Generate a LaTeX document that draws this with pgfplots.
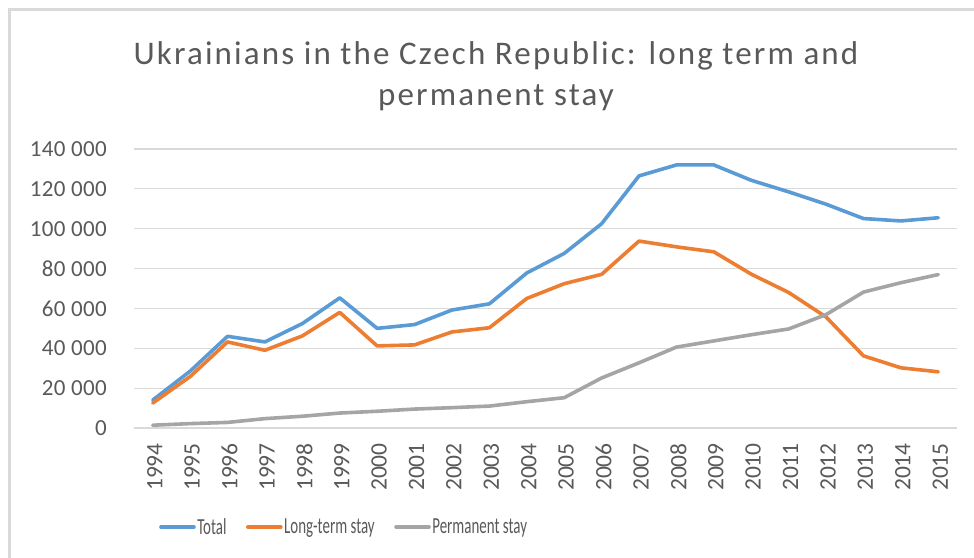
\documentclass[border=0pt]{standalone}
\usepackage{pgfplots}
\pgfplotsset{compat=1.18}
\usepackage{fontspec}
\setmainfont{Carlito}
\newfontfamily\legendfont[FakeStretch=0.65]{Carlito}
\newfontfamily\titlefont[LetterSpace=6.5]{Carlito}
\newfontfamily\tickfont[LetterSpace=1.5]{Carlito}
\definecolor{cBlue}{HTML}{5B9BD5}
\definecolor{cOrange}{HTML}{ED7D31}
\definecolor{cGray}{HTML}{A5A5A5}
\definecolor{cGrid}{HTML}{D9D9D9}
\definecolor{cText}{HTML}{595959}
\pgfplotstableread{
year total long perm
1994 14000 12500 1400
1995 28500 25800 2200
1996 46000 43200 2800
1997 43200 39000 4700
1998 52400 46200 5900
1999 65300 58000 7500
2000 50000 41200 8400
2001 51900 41700 9500
2002 59200 48200 10200
2003 62300 50300 11000
2004 77800 65000 13200
2005 87600 72400 15200
2006 102500 77100 25100
2007 126500 93800 32700
2008 132000 90900 40600
2009 132000 88400 43700
2010 124300 77200 46800
2011 118500 68000 49700
2012 112300 55700 56900
2013 105100 36200 68200
2014 103900 30200 72900
2015 105500 28200 77000
}\datatable
\begin{document}
\begin{tikzpicture}
\useasboundingbox (0,0) rectangle (974bp,558bp);
\draw[cGrid, line width=3bp] (9.5bp,0bp) -- (9.5bp,548bp) -- (974bp,548bp);
\node[anchor=base, text=cText, font=\titlefont\fontsize{33bp}{39bp}\selectfont, inner sep=0pt] at (496bp,493bp) {Ukrainians in the Czech Republic: long term and};
\node[anchor=base, text=cText, font=\titlefont\fontsize{33bp}{39bp}\selectfont, inner sep=0pt] at (496bp,452bp) {permanent stay};
\begin{axis}[
  at={(134bp,130bp)}, anchor=south west,
  scale only axis, width=823bp, height=279bp,
  xmin=1993.5, xmax=2015.5, ymin=0, ymax=140000,
  axis line style={draw=none},
  major tick length=0pt,
  scaled y ticks=false,
  ymajorgrids, grid style={cGrid, line width=1.2bp},
  xtick={1994,...,2015},
  xticklabels={1994,1995,1996,1997,1998,1999,2000,2001,2002,2003,2004,2005,2006,2007,2008,2009,2010,2011,2012,2013,2014,2015},
  ytick={0,20000,...,140000},
  yticklabels={0,20 000,40 000,60 000,80 000,100 000,120 000,140 000},
  yticklabel style={font=\tickfont\fontsize{23bp}{27bp}\selectfont, text=cText, anchor=east, inner sep=0pt, xshift=-27bp},
  xticklabel shift=15bp,
  xticklabel style={font=\fontsize{23.5bp}{27bp}\selectfont, text=cText, rotate=90, anchor=east, inner sep=0pt, yshift=-2bp},
  legend style={at={(0.255,-0.355)}, anchor=center, draw=none, fill=none,
    font=\legendfont\fontsize{23bp}{27bp}\selectfont, text=cText,
    /tikz/every even column/.append style={column sep=18bp},
    nodes={inner sep=1.5bp}},
  legend columns=-1,
  legend image code/.code={\draw[#1] (0bp,0bp) -- (33bp,0bp);},
  every axis plot/.append style={line width=3.6bp, line join=round, line cap=round},
]
\addplot[cBlue] table[x=year, y=total] {\datatable};
\addplot[cOrange] table[x=year, y=long] {\datatable};
\addplot[cGray] table[x=year, y=perm] {\datatable};
\legend{Total,Long-term stay,Permanent stay}
\end{axis}
\end{tikzpicture}
\end{document}
